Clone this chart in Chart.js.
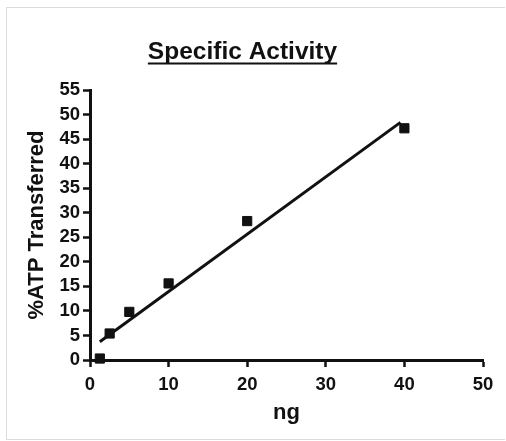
<!DOCTYPE html>
<html lang="pt-br">
<head>
    <meta charset="UTF-8">
    <title>Specific Activity</title>
    <script src="https://cdn.jsdelivr.net/npm/chart.js"></script>
    <style>
        html, body { margin: 0; background-color: white; overflow: hidden; }
        .moldura { position: absolute; left: 6px; top: 7px; width: 498px; height: 431px; border: 1px solid #dcdcdc; border-right: none; }
        .graph-container { position: absolute; left: 0; top: 0; width: 506px; height: 441px; }
    </style>
</head>
<body>
    <div class="moldura"></div>
    <div class="graph-container">
        <canvas id="myChartCanvas" width="506" height="441"></canvas>
    </div>
<script>
    // dados
    const quantidadeNg = [1.25, 2.5, 5, 10, 20, 40];
    const atpTransferido = [0.3, 5.4, 9.8, 15.6, 28.3, 47.2];

    // reta de regressao (extremos)
    const retaX = [1.25, 39.5];
    const retaY = [3.7, 48.4];

    const marcasX = [0, 10, 20, 30, 40, 50];
    const marcasY = [0, 5, 10, 15, 20, 25, 30, 35, 40, 45, 50, 55];

    const titulo = 'Specific Activity';
    const fonte = '"Liberation Sans", Arial, sans-serif';

    // titulo sublinhado desenhado a mao
    const tituloSublinhado = {
        id: 'tituloSublinhado',
        afterDraw(chart) {
            const ctx = chart.ctx;
            ctx.save();
            ctx.font = 'bold 24.5px ' + fonte;
            ctx.fillStyle = '#111';
            ctx.textAlign = 'center';
            ctx.textBaseline = 'alphabetic';
            const cx = 242.5;
            ctx.fillText(titulo, cx, 59);
            const w = ctx.measureText(titulo).width;
            ctx.strokeStyle = '#111';
            ctx.lineWidth = 2;
            ctx.beginPath();
            ctx.moveTo(cx - w / 2, 63.5);
            ctx.lineTo(cx + w / 2, 63.5);
            ctx.stroke();
            ctx.restore();
        }
    };

    const ctx = document.getElementById('myChartCanvas').getContext('2d');

    new Chart(ctx, {
        type: 'scatter',
        data: {
            datasets: [{
                label: 'Pontos',
                data: quantidadeNg.map((x, i) => ({ x: x, y: atpTransferido[i] })),
                pointStyle: 'rect',
                pointRadius: 6.5,
                pointBackgroundColor: '#111',
                pointBorderColor: '#111',
                pointBorderWidth: 1,
                showLine: false,
                clip: false
            }, {
                label: 'Reta',
                data: retaX.map((x, i) => ({ x: x, y: retaY[i] })),
                showLine: true,
                borderColor: '#111',
                borderWidth: 3,
                pointRadius: 0,
                clip: false
            }]
        },
        options: {
            responsive: false,
            animation: false,
            layout: { padding: { left: 20, right: 23, top: 90, bottom: 11 } },
            plugins: {
                legend: { display: false },
                tooltip: { enabled: false }
            },
            scales: {
                x: {
                    type: 'linear',
                    min: 0,
                    max: 50,
                    afterFit: (s) => { s.height = 70; },
                    afterBuildTicks: (s) => { s.ticks = marcasX.map(v => ({ value: v })); },
                    border: { display: true, color: '#111', width: 3 },
                    grid: { drawOnChartArea: false, drawTicks: true, tickLength: 7, tickWidth: 2.5, tickColor: '#111' },
                    ticks: { color: '#111', padding: 7, autoSkip: false, maxRotation: 0, font: { family: fonte, size: 18.5, weight: 'bold' } },
                    title: { display: true, text: 'ng', color: '#111', padding: { top: 0, bottom: 4 }, font: { family: fonte, size: 22, weight: 'bold' } }
                },
                y: {
                    type: 'linear',
                    min: 0,
                    max: 55,
                    afterFit: (s) => { s.width = 70; },
                    afterBuildTicks: (s) => { s.ticks = marcasY.map(v => ({ value: v })); },
                    border: { display: true, color: '#111', width: 3 },
                    grid: { drawOnChartArea: false, drawTicks: true, tickLength: 7, tickWidth: 2.5, tickColor: '#111' },
                    ticks: { color: '#111', padding: 3, autoSkip: false, font: { family: fonte, size: 18.5, weight: 'bold' } },
                    title: { display: true, text: '%ATP Transferred', color: '#111', padding: { top: 4, bottom: 0 }, font: { family: fonte, size: 22, weight: 'bold' } }
                }
            }
        },
        plugins: [tituloSublinhado]
    });
</script>
</body>
</html>
